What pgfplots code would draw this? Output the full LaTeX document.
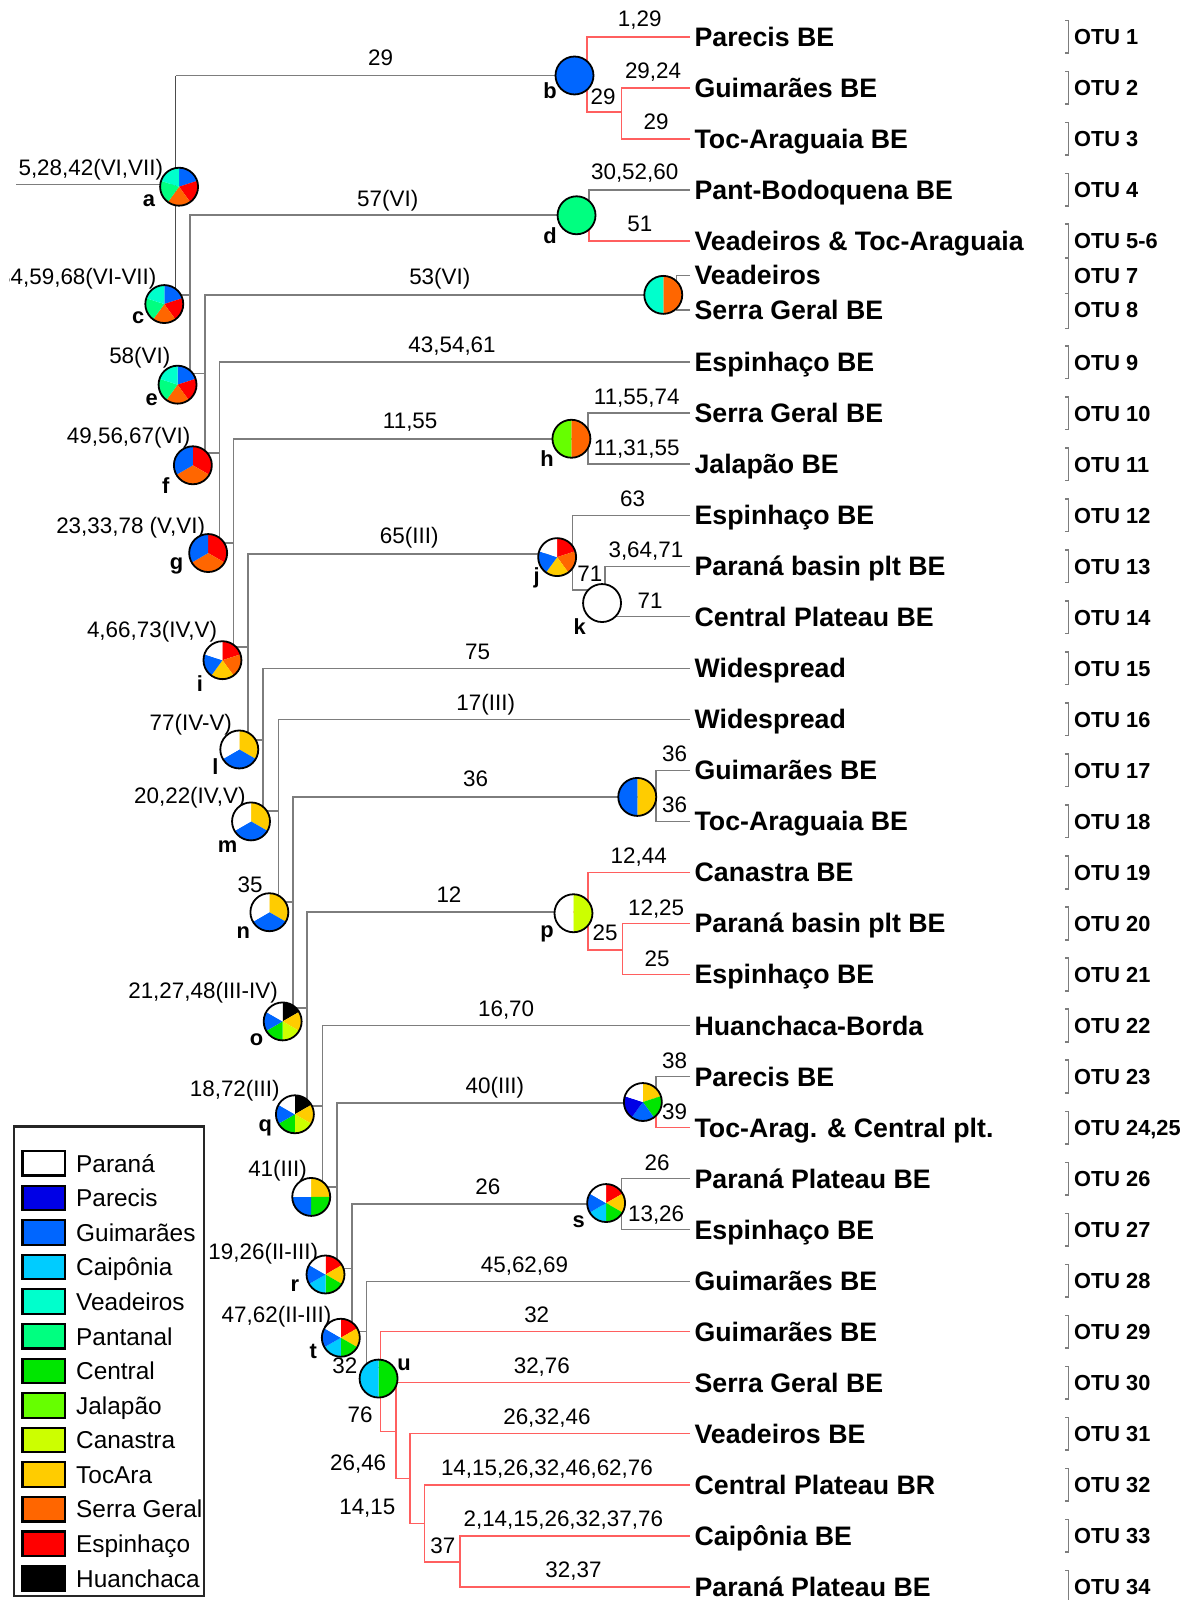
\documentclass[border=0pt]{standalone}
\usepackage{pgfplots}
\pgfplotsset{compat=1.18}
\usepackage{fontspec}
\setmainfont{Liberation Sans}

% area colours
\definecolor{cParana}{RGB}{255,255,255}
\definecolor{cParecis}{RGB}{0,0,230}
\definecolor{cGuim}{RGB}{0,102,255}
\definecolor{cCaip}{RGB}{0,204,255}
\definecolor{cVead}{RGB}{0,255,204}
\definecolor{cPant}{RGB}{0,255,128}
\definecolor{cCentral}{RGB}{0,230,0}
\definecolor{cJalap}{RGB}{102,255,0}
\definecolor{cCanas}{RGB}{204,255,0}
\definecolor{cTocAra}{RGB}{255,204,0}
\definecolor{cSerra}{RGB}{255,102,0}
\definecolor{cEspi}{RGB}{255,0,0}
\definecolor{cHuan}{RGB}{0,0,0}
\definecolor{branchgray}{RGB}{125,125,125}
\definecolor{branchred}{RGB}{255,95,95}

\tikzset{
  gl/.style={color=branchgray, line width=0.45pt},
  rl/.style={color=branchred, line width=0.45pt},
  tip/.style={font=\fontsize{7.45}{8.5}\selectfont\bfseries, anchor=base west, inner sep=0pt},
  otu/.style={font=\fontsize{6.07}{7}\selectfont\bfseries, anchor=base west, inner sep=0pt},
  lab/.style={font=\fontsize{6.25}{7}\selectfont, anchor=base, inner sep=0pt},
  ltrs/.style={font=\fontsize{6.1}{7}\selectfont\bfseries, anchor=base, inner sep=0pt},
  leg/.style={font=\fontsize{6.8}{8}\selectfont, anchor=base west, inner sep=0pt},
}

\newcommand{\tiplab}[2]{\node[tip] at (axis cs:680,#1+9.3) {#2};}
\newcommand{\otu}[2]{\node[otu] at (axis cs:1052,#1+7.6) {#2};}
\newcommand{\blab}[3]{\node[lab] at (axis cs:#1,#2+8) {#3};}
\newcommand{\ltr}[3]{\node[ltrs] at (axis cs:#1,#2) {#3};}
\newcommand{\legentry}[3]{%
  \draw[black, line width=0.6pt, fill=#2] (axis cs:22,#1-12) rectangle (axis cs:64,#1+12);
  \node[leg] at (axis cs:74,#1+8.6) {#3};}

% ancestral-area pie: coordinate, number of slices, colours clockwise from the top
\newcommand{\pierad}{1.86mm}
\newcommand{\pie}[3]{%
  \foreach \pcol [count=\k from 0] in {#3} {
    \fill[\pcol] (#1) -- ++({90-360*\k/#2}:\pierad)
      arc[start angle={90-360*\k/#2}, delta angle={-360/#2}, radius=\pierad] -- cycle;
  }
  \draw[black, line width=0.5pt] (#1) circle[radius=\pierad];
}

\begin{document}
\begin{tikzpicture}
\begin{axis}[
  scale only axis, width=116.8mm, height=156.8mm,
  xmin=0, xmax=1168, ymin=0, ymax=1568, y dir=reverse,
  hide axis, clip=true, no markers, unbounded coords=jump,
]
% ---- grey branches
\addplot[gl] coordinates {
(16,181) (172,181) (nan,nan)
(563,74) (172,74) (nan,nan)
(172,289) (186,289) (nan,nan)
(565,211) (186,211) (186,366) (201,366) (nan,nan)
(650,289) (201,289) (201,444) (215,444) (nan,nan)
(676,355) (215,355) (215,532) (229,532) (nan,nan)
(560,430) (229,430) (229,634) (243,634) (nan,nan)
(546,543) (243,543) (243,725) (258,725) (nan,nan)
(676,655) (258,655) (258,795) (273,795) (nan,nan)
(676,705) (273,705) (273,884) (287,884) (nan,nan)
(624,781) (287,781) (287,988) (301,988) (nan,nan)
(562,894) (301,894) (301,1084) (316,1084) (nan,nan)
(676,1005) (316,1005) (316,1163) (330,1163) (nan,nan)
(630,1081) (330,1081) (330,1243) (345,1243) (nan,nan)
(594,1180) (345,1180) (345,1305) (359,1305) (nan,nan)
(676,1256) (359,1256) (359,1340) (371,1340) (nan,nan)
(676,186) (577,186) (577,211) (nan,nan)
(676,270) (663,270) (663,304) (676,304) (nan,nan)
(676,405) (576,405) (576,455) (676,455) (nan,nan)
(560,430) (576,430) (nan,nan)
(676,505) (561,505) (561,578) (590,578) (nan,nan)
(676,555) (593,555) (593,591) (nan,nan)
(590,604) (676,604) (nan,nan)
(676,755) (643,755) (643,805) (676,805) (nan,nan)
(624,781) (643,781) (nan,nan)
(676,1055) (643,1055) (643,1081) (nan,nan)
(630,1081) (643,1081) (nan,nan)
(676,1155) (609,1155) (609,1205) (676,1205) (nan,nan)
(594,1180) (609,1180)
};
% root node stem
\addplot[color=black!70, line width=0.5pt] coordinates {(172,74) (172,289)};
% ---- red branches
\addplot[rl] coordinates {
(676,36) (575,36) (575,110) (609,110) (nan,nan)
(563,74) (575,74) (nan,nan)
(676,86) (609,86) (609,136) (676,136) (nan,nan)
(577,211) (577,236) (676,236) (nan,nan)
(676,855) (576,855) (576,931) (610,931) (nan,nan)
(562,894) (576,894) (nan,nan)
(676,905) (610,905) (610,955) (676,955) (nan,nan)
(643,1081) (643,1105) (676,1105) (nan,nan)
(676,1305) (373,1305) (373,1403) (388,1403) (nan,nan)
(676,1355) (388,1355) (388,1449) (402,1449) (nan,nan)
(676,1405) (402,1405) (402,1493) (416,1493) (nan,nan)
(676,1455) (416,1455) (416,1531) (451,1531) (nan,nan)
(676,1505) (451,1505) (451,1555) (676,1555)
};
% ---- OTU brackets
\addplot[color=branchgray, line width=0.4pt] coordinates {
(1044,20) (1047,20) (1047,52) (1044,52) (nan,nan)
(1044,70) (1047,70) (1047,102) (1044,102) (nan,nan)
(1044,120) (1047,120) (1047,152) (1044,152) (nan,nan)
(1044,170) (1047,170) (1047,202) (1044,202) (nan,nan)
(1044,219.5) (1047,219.5) (1047,253) (1044,253) (nan,nan)
(1047,253) (1047,287.5) (1044,287.5) (nan,nan)
(1047,287.5) (1047,322) (1044,322) (nan,nan)
(1044,339) (1047,339) (1047,371) (1044,371) (nan,nan)
(1044,389) (1047,389) (1047,421) (1044,421) (nan,nan)
(1044,439) (1047,439) (1047,471) (1044,471) (nan,nan)
(1044,489) (1047,489) (1047,521) (1044,521) (nan,nan)
(1044,539) (1047,539) (1047,571) (1044,571) (nan,nan)
(1044,589) (1047,589) (1047,621) (1044,621) (nan,nan)
(1044,639) (1047,639) (1047,671) (1044,671) (nan,nan)
(1044,689) (1047,689) (1047,721) (1044,721) (nan,nan)
(1044,739) (1047,739) (1047,771) (1044,771) (nan,nan)
(1044,789) (1047,789) (1047,821) (1044,821) (nan,nan)
(1044,839) (1047,839) (1047,871) (1044,871) (nan,nan)
(1044,889) (1047,889) (1047,921) (1044,921) (nan,nan)
(1044,939) (1047,939) (1047,971) (1044,971) (nan,nan)
(1044,989) (1047,989) (1047,1021) (1044,1021) (nan,nan)
(1044,1039) (1047,1039) (1047,1071) (1044,1071) (nan,nan)
(1044,1089) (1047,1089) (1047,1121) (1044,1121) (nan,nan)
(1044,1139) (1047,1139) (1047,1171) (1044,1171) (nan,nan)
(1044,1189) (1047,1189) (1047,1221) (1044,1221) (nan,nan)
(1044,1239) (1047,1239) (1047,1271) (1044,1271) (nan,nan)
(1044,1289) (1047,1289) (1047,1321) (1044,1321) (nan,nan)
(1044,1339) (1047,1339) (1047,1371) (1044,1371) (nan,nan)
(1044,1389) (1047,1389) (1047,1421) (1044,1421) (nan,nan)
(1044,1439) (1047,1439) (1047,1471) (1044,1471) (nan,nan)
(1044,1489) (1047,1489) (1047,1521) (1044,1521) (nan,nan)
(1044,1539) (1047,1539) (1047,1571) (1044,1571)
};

% ---- pie centres
\coordinate (pA) at (axis cs:175.5,183);
\coordinate (pB) at (axis cs:563,74);
\coordinate (pC) at (axis cs:161,298);
\coordinate (pD) at (axis cs:565,211);
\coordinate (pE) at (axis cs:174,377);
\coordinate (pVS) at (axis cs:650,289);
\coordinate (pF) at (axis cs:189,456);
\coordinate (pG) at (axis cs:204,542);
\coordinate (pH) at (axis cs:560,430);
\coordinate (pI) at (axis cs:218,647);
\coordinate (pJ) at (axis cs:546,546);
\coordinate (pK) at (axis cs:590,591);
\coordinate (pL) at (axis cs:234.5,734.5);
\coordinate (pM) at (axis cs:246,805);
\coordinate (pN) at (axis cs:264,894);
\coordinate (p36) at (axis cs:624.5,781);
\coordinate (pO) at (axis cs:277,1001);
\coordinate (pP) at (axis cs:562,895);
\coordinate (pQ) at (axis cs:289,1092);
\coordinate (p41) at (axis cs:305,1173);
\coordinate (p40) at (axis cs:630,1080);
\coordinate (pR) at (axis cs:319,1249);
\coordinate (pS) at (axis cs:594,1179);
\coordinate (pT) at (axis cs:334,1311);
\coordinate (pU) at (axis cs:371,1351);

% ---- terminal areas
\tiplab{36}{Parecis BE}
\tiplab{86}{Guimarães BE}
\tiplab{136}{Toc-Araguaia BE}
\tiplab{186}{Pant-Bodoquena BE}
\tiplab{236}{Veadeiros \& Toc-Araguaia}
\tiplab{270}{Veadeiros}
\tiplab{304}{Serra Geral BE}
\tiplab{355}{Espinhaço BE}
\tiplab{405}{Serra Geral BE}
\tiplab{455}{Jalapão BE}
\tiplab{505}{Espinhaço BE}
\tiplab{555}{Paraná basin plt BE}
\tiplab{605}{Central Plateau BE}
\tiplab{655}{Widespread}
\tiplab{705}{Widespread}
\tiplab{755}{Guimarães BE}
\tiplab{805}{Toc-Araguaia BE}
\tiplab{855}{Canastra BE}
\tiplab{905}{Paraná basin plt BE}
\tiplab{955}{Espinhaço BE}
\tiplab{1005}{Huanchaca-Borda}
\tiplab{1055}{Parecis BE}
\tiplab{1105}{Toc-Arag. \& Central plt.}
\tiplab{1155}{Paraná Plateau BE}
\tiplab{1205}{Espinhaço BE}
\tiplab{1255}{Guimarães BE}
\tiplab{1305}{Guimarães BE}
\tiplab{1355}{Serra Geral BE}
\tiplab{1405}{Veadeiros BE}
\tiplab{1455}{Central Plateau BR}
\tiplab{1505}{Caipônia BE}
\tiplab{1555}{Paraná Plateau BE}

% ---- OTU numbers
\otu{36}{OTU 1}
\otu{86}{OTU 2}
\otu{136}{OTU 3}
\otu{186}{OTU 4}
\otu{236}{OTU 5-6}
\otu{270}{OTU 7}
\otu{304}{OTU 8}
\otu{355}{OTU 9}
\otu{405}{OTU 10}
\otu{455}{OTU 11}
\otu{505}{OTU 12}
\otu{555}{OTU 13}
\otu{605}{OTU 14}
\otu{655}{OTU 15}
\otu{705}{OTU 16}
\otu{755}{OTU 17}
\otu{805}{OTU 18}
\otu{855}{OTU 19}
\otu{905}{OTU 20}
\otu{955}{OTU 21}
\otu{1005}{OTU 22}
\otu{1055}{OTU 23}
\otu{1105}{OTU 24,25}
\otu{1155}{OTU 26}
\otu{1205}{OTU 27}
\otu{1255}{OTU 28}
\otu{1305}{OTU 29}
\otu{1355}{OTU 30}
\otu{1405}{OTU 31}
\otu{1455}{OTU 32}
\otu{1505}{OTU 33}
\otu{1555}{OTU 34}

% ---- node character labels
\blab{89}{164}{5,28,42(VI,VII)}
\begin{scope}
  \clip (axis cs:9.5,240) rectangle (axis cs:200,300);
  \node[lab, anchor=base east] at (axis cs:154,279) {34,59,68(VI-VII)};
\end{scope}
\blab{137}{348}{58(VI)}
\blab{126}{427}{49,56,67(VI)}
\blab{128}{515}{23,33,78 (V,VI)}
\blab{149}{617}{4,66,73(IV,V)}
\blab{187}{708}{77(IV-V)}
\blab{186}{779}{20,22(IV,V)}
\blab{245}{867}{35}
\blab{199}{971}{21,27,48(III-IV)}
\blab{230}{1067}{18,72(III)}
\blab{272}{1145}{41(III)}
\blab{258}{1226}{19,26(II-III)}
\blab{271}{1288}{47,62(II-III)}
\blab{338}{1338}{32}
\blab{353}{1386}{76}
\blab{351}{1433}{26,46}
\blab{360}{1476}{14,15}
\blab{434}{1514}{37}
% ---- branch character labels
\blab{373}{56}{29}
\blab{380}{194}{57(VI)}
\blab{431}{271}{53(VI)}
\blab{443}{337}{43,54,61}
\blab{402}{412}{11,55}
\blab{401}{525}{65(III)}
\blab{468}{638}{75}
\blab{476}{688}{17(III)}
\blab{466}{763}{36}
\blab{440}{876}{12}
\blab{496}{988}{16,70}
\blab{485}{1064}{40(III)}
\blab{478}{1163}{26}
\blab{514}{1239}{45,62,69}
\blab{526}{1288}{32}
\blab{531}{1338}{32,76}
\blab{536}{1388}{26,32,46}
\blab{536}{1438}{14,15,26,32,46,62,76}
\blab{552}{1488}{2,14,15,26,32,37,76}
\blab{562}{1538}{32,37}
\blab{627}{18}{1,29}
\blab{640}{69}{29,24}
\blab{591}{94}{29}
\blab{643}{119}{29}
\blab{622}{168}{30,52,60}
\blab{627}{219}{51}
\blab{624}{388}{11,55,74}
\blab{624}{438}{11,31,55}
\blab{620}{488}{63}
\blab{633}{538}{3,64,71}
\blab{578}{562}{71}
\blab{637}{588}{71}
\blab{661}{738}{36}
\blab{661}{788}{36}
\blab{626}{838}{12,44}
\blab{643}{889}{12,25}
\blab{593}{914}{25}
\blab{644}{939}{25}
\blab{661}{1039}{38}
\blab{661}{1089}{39}
\blab{644}{1139}{26}
\blab{643}{1189}{13,26}

% ---- node letters
\ltr{146}{202}{a}
\ltr{539}{97}{b}
\ltr{135.5}{317}{c}
\ltr{539}{239}{d}
\ltr{148.6}{397}{e}
\ltr{162.4}{484}{f}
\ltr{173}{558}{g}
\ltr{536}{457}{h}
\ltr{196}{678}{i}
\ltr{526}{572}{j}
\ltr{568}{622}{k}
\ltr{211}{759}{l}
\ltr{223}{835}{m}
\ltr{238.5}{920}{n}
\ltr{251.5}{1025}{o}
\ltr{536}{919}{p}
\ltr{260}{1109}{q}
\ltr{289}{1266}{r}
\ltr{567}{1203}{s}
\ltr{307}{1331}{t}
\ltr{396}{1343}{u}

% ---- legend
\draw[black!85, line width=0.6pt, fill=white] (axis cs:13.5,1104) rectangle (axis cs:200,1564);
\legentry{1140}{cParana}{Paraná}
\legentry{1173.9}{cParecis}{Parecis}
\legentry{1207.8}{cGuim}{Guimarães}
\legentry{1241.7}{cCaip}{Caipônia}
\legentry{1275.6}{cVead}{Veadeiros}
\legentry{1309.5}{cPant}{Pantanal}
\legentry{1343.4}{cCentral}{Central}
\legentry{1377.3}{cJalap}{Jalapão}
\legentry{1411.2}{cCanas}{Canastra}
\legentry{1445.1}{cTocAra}{TocAra}
\legentry{1479}{cSerra}{Serra Geral}
\legentry{1512.9}{cEspi}{Espinhaço}
\legentry{1546.8}{cHuan}{Huanchaca}
\end{axis}

% ---- ancestral areas at the nodes
\pie{pA}{5}{cGuim,cEspi,cSerra,cPant,cVead}
\pie{pC}{5}{cGuim,cEspi,cSerra,cPant,cVead}
\pie{pE}{5}{cGuim,cEspi,cSerra,cPant,cVead}
\pie{pF}{3}{cEspi,cSerra,cGuim}
\pie{pG}{3}{cEspi,cSerra,cGuim}
\pie{pI}{5}{cEspi,cSerra,cTocAra,cGuim,cParana}
\pie{pL}{3}{cTocAra,cGuim,cParana}
\pie{pM}{3}{cTocAra,cGuim,cParana}
\pie{pN}{3}{cTocAra,cGuim,cParana}
\pie{pO}{6}{cHuan,cTocAra,cCanas,cCentral,cGuim,cParana}
\pie{pQ}{6}{cHuan,cTocAra,cCanas,cCentral,cGuim,cParana}
\pie{p41}{4}{cTocAra,cCentral,cGuim,cParana}
\pie{pR}{6}{cEspi,cTocAra,cCentral,cCaip,cGuim,cParana}
\pie{pT}{6}{cEspi,cTocAra,cCentral,cCaip,cGuim,cParana}
\pie{pU}{2}{cCentral,cCaip}
\pie{pB}{1}{cGuim}
\pie{pD}{1}{cPant}
\pie{pVS}{2}{cSerra,cVead}
\pie{pH}{2}{cSerra,cJalap}
\pie{pJ}{5}{cEspi,cSerra,cTocAra,cGuim,cParana}
\pie{pK}{1}{cParana}
\pie{p36}{2}{cTocAra,cGuim}
\pie{pP}{2}{cCanas,cParana}
\pie{p40}{5}{cTocAra,cCentral,cGuim,cParecis,cParana}
\pie{pS}{6}{cEspi,cTocAra,cCentral,cCaip,cGuim,cParana}

\pgfresetboundingbox
\path[use as bounding box] (current axis.south west) rectangle (current axis.north east);
\end{tikzpicture}
\end{document}
